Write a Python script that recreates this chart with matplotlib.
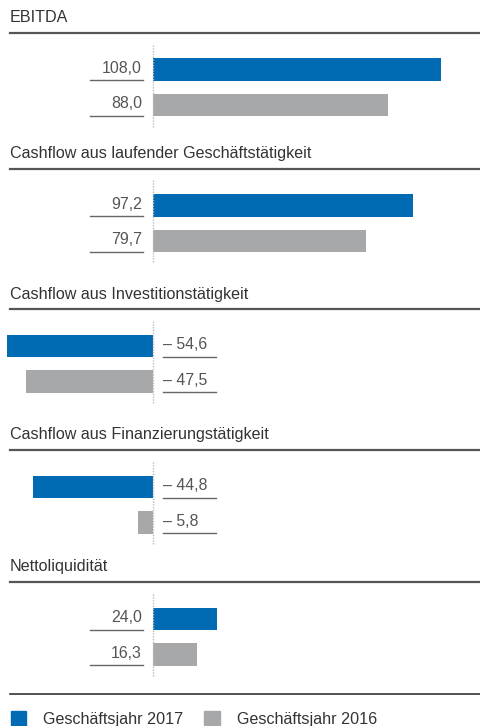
import matplotlib
matplotlib.use("Agg")
import matplotlib.pyplot as plt
from matplotlib.lines import Line2D
from matplotlib.patches import Patch

plt.rcParams["font.family"] = ["Liberation Sans", "DejaVu Sans"]

kennzahlen = [
    "EBITDA",
    "Cashflow aus laufender Geschäftstätigkeit",
    "Cashflow aus Investitionstätigkeit",
    "Cashflow aus Finanzierungstätigkeit",
    "Nettoliquidität",
]
werte_2017 = [108.0, 97.2, -54.6, -44.8, 24.0]
werte_2016 = [88.0, 79.7, -47.5, -5.8, 16.3]
jahre = ["Geschäftsjahr 2017", "Geschäftsjahr 2016"]

blau = "#006ab3"
grau = "#a7a8aa"
W, H = 480, 726

# pixel layout
kopf_y = [32.5, 168.5, 309, 450, 582]
px_pro_einheit = 2.67
null_x = 153
zeile = 35.5          # px between the two bars
erster = 37.0         # px from header line to first bar center
ax_hoehe = 100

xlim = (-null_x / px_pro_einheit, (W - null_x) / px_pro_einheit)

fig = plt.figure(figsize=(W / 100, H / 100), dpi=100)


def fmt(v):
    s = f"{abs(v):.1f}".replace(".", ",")
    return ("\u2013 " + s) if v < 0 else s


for i, name in enumerate(kennzahlen):
    ky = kopf_y[i]
    fig.text(10 / W, 1 - (ky - 15) / H, name, fontsize=11.6, color="#333333",
             va="center", ha="left")
    fig.add_artist(Line2D([10 / W, 1], [1 - ky / H] * 2, color="#555555", lw=1.6))

    ax = fig.add_axes([0, 1 - (ky + ax_hoehe) / H, 1, ax_hoehe / H])
    ax.set_xlim(*xlim)
    top = -erster / zeile
    ax.set_ylim(top + ax_hoehe / zeile, top)
    ax.axis("off")

    werte = [werte_2017[i], werte_2016[i]]
    ax.barh([0, 1], werte, height=0.64, color=[blau, grau])
    ax.vlines(0, (12 - erster) / zeile, (95 - erster) / zeile,
              colors="#bbbbbb", linestyles=(0, (1, 1)), lw=1)

    for j, v in enumerate(werte):
        if v >= 0:
            tx, ha = -11 / px_pro_einheit, "right"
            ux = (-63 / px_pro_einheit, -10 / px_pro_einheit)
        else:
            tx, ha = 10 / px_pro_einheit, "left"
            ux = (10 / px_pro_einheit, 63 / px_pro_einheit)
        ax.text(tx, j - 0.03, fmt(v), fontsize=11.4, color="#555555",
                ha=ha, va="center")
        ax.plot(ux, [j + 0.3] * 2, color="#666666", lw=1)

fig.add_artist(Line2D([10 / W, 1], [1 - 694 / H] * 2, color="#333333", lw=1.2))

griffe = [Patch(color=blau), Patch(color=grau)]
fig.legend(griffe, jahre, loc="center left", bbox_to_anchor=(11 / W, 1 - 719 / H),
           ncol=2, frameon=False, fontsize=11.6, handlelength=0.95, handleheight=0.95,
           handletextpad=1.05, columnspacing=1.3, borderpad=0, borderaxespad=0,
           labelcolor="#333333")

fig.savefig("out.png", dpi=100)
